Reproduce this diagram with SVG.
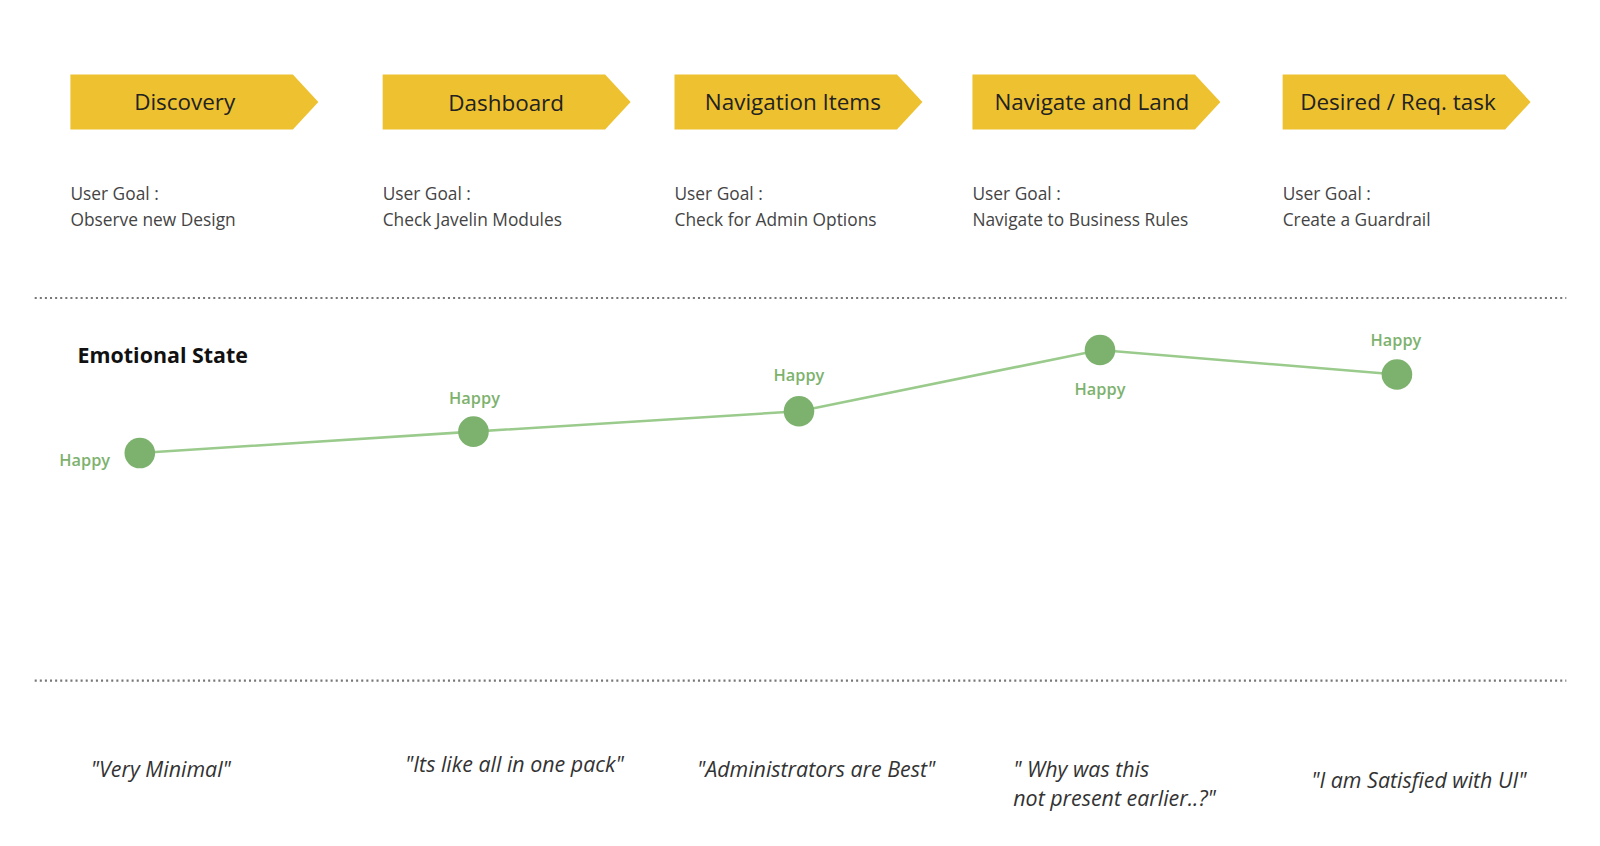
<svg xmlns="http://www.w3.org/2000/svg" width="1600" height="846" viewBox="0 0 1600 846">
<style>
.chev{fill:#EEC130}
.ct{font-family:"Open Sans","Liberation Sans",sans-serif;font-size:22px;fill:#222;text-anchor:middle}
.g{font-family:"Open Sans","Liberation Sans",sans-serif;font-size:17px;fill:#444}
.sep{stroke:#777;stroke-width:2;stroke-dasharray:2 3}
.h{font-family:"Open Sans","Liberation Sans",sans-serif;font-size:16px;fill:#7DB26E;font-weight:600;text-anchor:middle}
.dot{fill:#7DB26E}
.q{font-family:"Open Sans","Liberation Sans",sans-serif;font-size:21px;font-style:italic;fill:#333}
</style>
<rect width="1600" height="846" fill="#fff"/>
<g transform="scale(1.0204)">
<g id="discovery"><path class="chev" d="M69 73H287L312 100L287 127H69Z"/><text class="ct" x="181" y="108">Discovery</text><text class="g" x="69" y="196">User Goal :</text><text class="g" x="69" y="221">Observe new Design</text></g>
<g id="dashboard"><path class="chev" d="M375 73H593L618 100L593 127H375Z"/><text class="ct" x="496" y="109">Dashboard</text><text class="g" x="375" y="196">User Goal :</text><text class="g" x="375" y="221">Check Javelin Modules</text></g>
<g id="navitems"><path class="chev" d="M661 73H879L904 100L879 127H661Z"/><text class="ct" x="777" y="108">Navigation Items</text><text class="g" x="661" y="196">User Goal :</text><text class="g" x="661" y="221">Check for Admin Options</text></g>
<g id="navland"><path class="chev" d="M953 73H1171L1196 100L1171 127H953Z"/><text class="ct" x="1070" y="108">Navigate and Land</text><text class="g" x="953" y="196">User Goal :</text><text class="g" x="953" y="221">Navigate to Business Rules</text></g>
<g id="desired"><path class="chev" d="M1257 73H1475L1500 100L1475 127H1257Z"/><text class="ct" x="1370" y="108">Desired / Req. task</text><text class="g" x="1257" y="196">User Goal :</text><text class="g" x="1257" y="221">Create a Guardrail</text></g>
<line class="sep" x1="34" y1="292" x2="1535" y2="292"/>
<line class="sep" x1="34" y1="667" x2="1535" y2="667"/>
<text x="76" y="356" font-family="'Open Sans','Liberation Sans',sans-serif" font-size="21" font-weight="bold" fill="#111">Emotional State</text>
<g id="connectors"><polyline points="137,444 464,423 783,403 1078,343 1369,367" fill="none" stroke="#9ACB8C" stroke-width="2.5"/></g>
<g id="e1"><circle class="dot" cx="137" cy="444" r="15"/><text class="h" x="83" y="457">Happy</text></g>
<g id="e2"><circle class="dot" cx="464" cy="423" r="15"/><text class="h" x="465" y="396">Happy</text></g>
<g id="e3"><circle class="dot" cx="783" cy="403" r="15"/><text class="h" x="783" y="373">Happy</text></g>
<g id="e4"><circle class="dot" cx="1078" cy="343" r="15"/><text class="h" x="1078" y="387">Happy</text></g>
<g id="e5"><circle class="dot" cx="1369" cy="367" r="15"/><text class="h" x="1368" y="339">Happy</text></g>
<text class="q" x="89" y="761">"Very Minimal"</text>
<text class="q" x="397" y="757">"Its like all in one pack"</text>
<text class="q" x="683" y="761">"Administrators are Best"</text>
<text class="q" x="993" y="761">" Why was this</text>
<text class="q" x="993" y="790">not present earlier..?"</text>
<text class="q" x="1285" y="772">"I am Satisfied with UI"</text>
</g>
</svg>
